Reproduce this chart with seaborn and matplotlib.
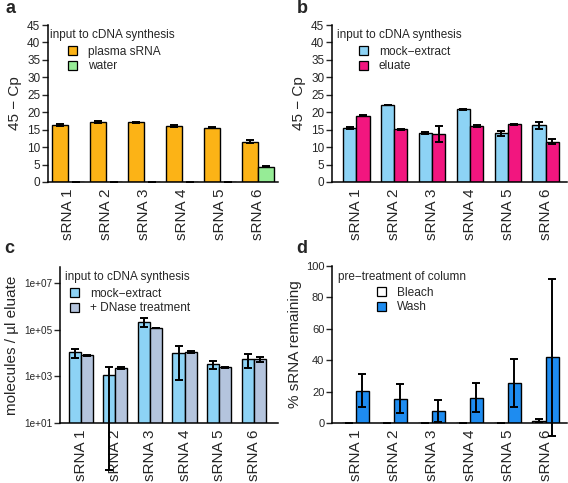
#four-panel bar chart of sRNA qPCR results
import numpy as np
import pandas as pd
import matplotlib
matplotlib.use('Agg')
import matplotlib.pyplot as plt
from matplotlib.patches import Patch
from matplotlib.ticker import NullLocator
import seaborn as sns

sns.set_style('white')
plt.rcParams['font.family'] = ['Liberation Sans', 'DejaVu Sans']

srna = ['sRNA 1', 'sRNA 2', 'sRNA 3', 'sRNA 4', 'sRNA 5', 'sRNA 6']

# panel a: 45 - Cp
a_plasma = [16.3, 17.2, 17.1, 16.1, 15.6, 11.6]
a_plasma_err = [0.2, 0.15, 0.15, 0.25, 0.2, 0.3]
a_water = [0.1, 0.1, 0.1, 0.1, 0.1, 4.4]
a_water_err = [0.0, 0.0, 0.0, 0.0, 0.0, 0.1]

# panel b: 45 - Cp
b_mock = [15.5, 22.07, 14.1, 20.8, 13.96, 16.2]
b_mock_err = [0.2, 0.1, 0.2, 0.15, 0.65, 1.0]
b_eluate = [19.0, 15.1, 13.7, 16.05, 16.5, 11.56]
b_eluate_err = [0.2, 0.1, 2.3, 0.3, 0.1, 0.7]

# panel c: molecules / ul eluate (lower / upper ends of error bars)
c_mock = [1.07e4, 1.2e3, 2.1e5, 1.0e4, 3.5e3, 5.5e3]
c_mock_lo = [6.2e3, 0.1, 1.3e5, 7.2e2, 2.0e3, 2.2e3]
c_mock_hi = [1.55e4, 2.6e3, 3.1e5, 1.95e4, 4.7e3, 8.9e3]
c_dnase = [7.9e3, 2.3e3, 1.17e5, 1.1e4, 2.4e3, 5.3e3]
c_dnase_lo = [7.6e3, 2.15e3, 1.13e5, 1.03e4, 2.3e3, 4.1e3]
c_dnase_hi = [8.2e3, 2.45e3, 1.21e5, 1.17e4, 2.5e3, 6.6e3]

# panel d: % sRNA remaining
d_bleach = [0.3, 0.3, 0.3, 0.3, 0.3, 1.5]
d_bleach_err = [0.0, 0.0, 0.0, 0.0, 0.0, 1.0]
d_wash = [20.6, 15.6, 7.4, 16.2, 25.4, 41.8]
d_wash_err = [10.3, 9.0, 7.0, 9.2, 15.4, 49.9]

W, H = 568, 483
fig = plt.figure(figsize=(W / 100, H / 100), dpi=100)


def axes_px(left, right, top, bottom):
    return fig.add_axes([left / W, 1 - bottom / H, (right - left) / W, (bottom - top) / H])


def bar_panel(ax, first, second, names, colors, width, errs):
    df = pd.DataFrame({'srna': srna * 2,
                       'group': [names[0]] * 6 + [names[1]] * 6,
                       'value': list(first) + list(second)})
    sns.barplot(data=df, x='srna', y='value', hue='group', hue_order=names,
                palette=colors, saturation=1, width=width, edgecolor='black',
                linewidth=1.0, errorbar=None, legend=False, ax=ax)
    for cont, (lo, hi) in zip(ax.containers, errs):
        xs = [p.get_x() + p.get_width() / 2 for p in cont]
        ys = np.array([p.get_y() + p.get_height() for p in cont])
        eb = ax.errorbar(xs, ys, yerr=[ys - np.array(lo), np.array(hi) - ys], fmt='none',
                         ecolor='black', elinewidth=1.4, capsize=3.2, capthick=1.4)
        for art in list(eb[1]) + list(eb[2]):
            art.set_clip_on(False)


def style(ax, ylabel, xlim, labelpad, ysize):
    sns.despine(ax=ax)
    ax.set_xlim(*xlim)
    ax.set_xlabel('')
    ax.set_ylabel(ylabel, fontsize=11, labelpad=labelpad)
    ax.tick_params(axis='x', length=0, pad=5, labelsize=11, labelrotation=90)
    ax.tick_params(axis='y', left=True, length=4, width=1.0, pad=1.5, labelsize=ysize, direction='out')
    for s in ['left', 'bottom']:
        ax.spines[s].set_linewidth(1.1)
        ax.spines[s].set_color('black')


def key(ax, title, names, colors, tx, ty, hx, hy):
    fig.text(tx / W, 1 - ty / H, title, fontsize=8.5, ha='left', va='center')
    handles = [Patch(facecolor=c, edgecolor='black', linewidth=0.9) for c in colors]
    ax.legend(handles, names, loc='upper left', bbox_to_anchor=(hx / W, 1 - hy / H),
              bbox_transform=fig.transFigure, frameon=False, borderpad=0, borderaxespad=0,
              handlelength=0.75, handleheight=0.75, handletextpad=0.9, labelspacing=0.2,
              fontsize=8.6)


def sym(vals, errs):
    v = np.array(vals)
    e = np.array(errs)
    return v - e, v + e


# a
ax_a = axes_px(48, 278, 25, 182)
a_cols = ['#fcb316', '#96ec96']
bar_panel(ax_a, a_plasma, a_water, ['plasma sRNA', 'water'], a_cols, 0.85,
          [sym(a_plasma, a_plasma_err), sym(a_water, a_water_err)])
ax_a.set_ylim(0, 45)
ax_a.set_yticks(range(0, 46, 5))
style(ax_a, '45 − Cp', (-0.53, 5.52), 4, 8.5)
key(ax_a, 'input to cDNA synthesis', ['plasma sRNA', 'water'], a_cols, 50, 35, 68, 46)

# b
ax_b = axes_px(332, 567, 25, 182)
b_cols = ['#8dd3f5', '#f2167f']
bar_panel(ax_b, b_mock, b_eluate, ['mock−extract', 'eluate'], b_cols, 0.7,
          [sym(b_mock, b_mock_err), sym(b_eluate, b_eluate_err)])
ax_b.set_ylim(0, 45)
ax_b.set_yticks(range(0, 46, 5))
style(ax_b, '45 − Cp', (-0.645, 5.565), 4, 8.5)
key(ax_b, 'input to cDNA synthesis', ['mock−extract', 'eluate'], b_cols, 337, 35, 359, 46)

# c
ax_c = axes_px(60, 278, 267, 423)
c_cols = ['#8dd3f5', '#b4c4dd']
ax_c.set_yscale('log')
bar_panel(ax_c, c_mock, c_dnase, ['mock−extract', '+ DNase treatment'], c_cols, 0.7,
          [(c_mock_lo, c_mock_hi), (c_dnase_lo, c_dnase_hi)])
ax_c.set_ylim(10, 10 ** 7.69)
ax_c.set_yticks([1e1, 1e3, 1e5, 1e7])
ax_c.set_yticklabels(['1e+01', '1e+03', '1e+05', '1e+07'])
ax_c.yaxis.set_minor_locator(NullLocator())
style(ax_c, 'molecules / µl eluate', (-0.6, 5.7), 4, 7.2)
key(ax_c, 'input to cDNA synthesis', ['mock−extract', '+ DNase treatment'], c_cols, 65, 277, 70, 288)

# d
ax_d = axes_px(332, 567, 266, 423)
d_cols = ['#ffffff', '#1e8cf0']
bar_panel(ax_d, d_bleach, d_wash, ['Bleach', 'Wash'], d_cols, 0.7,
          [sym(d_bleach, d_bleach_err), sym(d_wash, d_wash_err)])
ax_d.set_ylim(0, 100)
ax_d.set_yticks(range(0, 101, 20))
style(ax_d, '% sRNA remaining', (-0.62, 5.56), 3, 8)
key(ax_d, 'pre−treatment of column', ['Bleach', 'Wash'], d_cols, 338, 277, 377, 287)

# panel letters
for letter, x, y in [('a', 5, 13.3), ('b', 297, 13.3), ('c', 4, 253.3), ('d', 296, 253.3)]:
    fig.text(x / W, 1 - y / H, letter, fontsize=13, fontweight='bold', ha='left', va='baseline')

fig.savefig('out.png', dpi=100)
